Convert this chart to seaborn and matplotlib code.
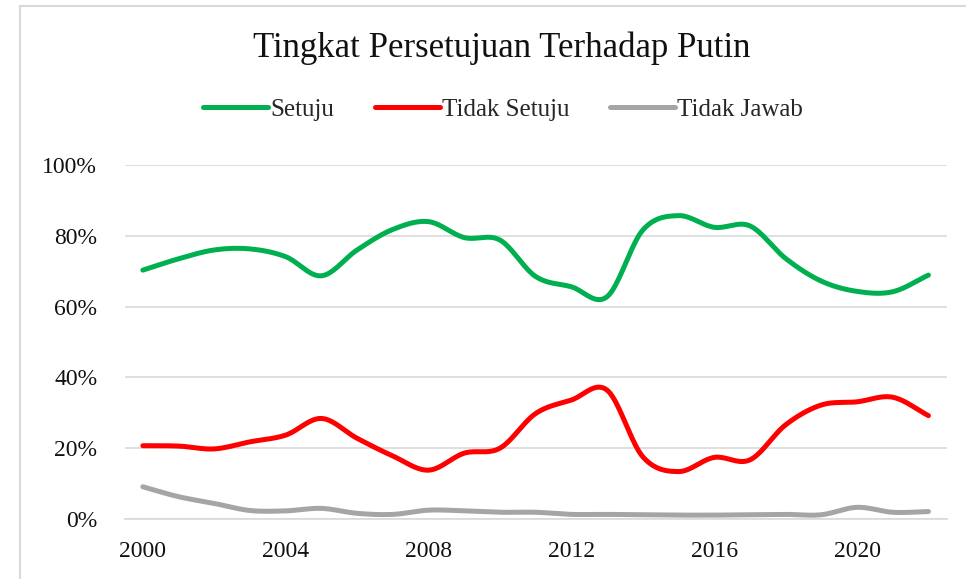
import numpy as np
import pandas as pd
import seaborn as sns
import matplotlib.pyplot as plt
from matplotlib.patches import Rectangle
from matplotlib.ticker import PercentFormatter

# data (percent)
years = list(range(2000, 2023))
setuju = [70.3, 73.5, 76.0, 76.3, 74.1, 68.7, 76.0, 81.8, 84.0, 79.5, 78.8,
          68.5, 65.6, 62.8, 81.6, 85.7, 82.4, 82.8, 73.6, 67.2, 64.3, 64.2, 68.9]
tidak_setuju = [20.7, 20.6, 19.8, 21.8, 23.7, 28.4, 22.8, 17.8, 13.8, 18.6, 20.0,
                29.8, 33.6, 36.4, 17.6, 13.4, 17.4, 16.7, 26.6, 32.2, 33.1, 34.4, 29.2]
tidak_jawab = [9.1, 6.3, 4.4, 2.4, 2.3, 3.0, 1.6, 1.3, 2.5, 2.3, 1.9,
               1.9, 1.3, 1.3, 1.2, 1.1, 1.1, 1.2, 1.3, 1.2, 3.3, 1.9, 2.1]

series = {"Setuju": setuju, "Tidak Setuju": tidak_setuju, "Tidak Jawab": tidak_jawab}
colors = {"Setuju": "#00B050", "Tidak Setuju": "#FF0000", "Tidak Jawab": "#A5A5A5"}


def smooth(x, y, n=20):
    # catmull-rom curve through the points, like Excel's "smoothed line"
    x = np.asarray(x, float)
    y = np.asarray(y, float)
    px = np.concatenate([[2 * x[0] - x[1]], x, [2 * x[-1] - x[-2]]])
    py = np.concatenate([[2 * y[0] - y[1]], y, [2 * y[-1] - y[-2]]])
    xs, ys = [], []
    t = np.linspace(0, 1, n, endpoint=False)
    for i in range(1, len(px) - 2):
        for p, out in ((px, xs), (py, ys)):
            p0, p1, p2, p3 = p[i - 1], p[i], p[i + 1], p[i + 2]
            out.extend(0.5 * (2 * p1 + (-p0 + p2) * t
                              + (2 * p0 - 5 * p1 + 4 * p2 - p3) * t ** 2
                              + (-p0 + 3 * p1 - 3 * p2 + p3) * t ** 3))
    xs.append(x[-1])
    ys.append(y[-1])
    return np.array(xs), np.array(ys)


frames = []
for name, vals in series.items():
    sx, sy = smooth(years, vals)
    frames.append(pd.DataFrame({"Tahun": sx, "Nilai": sy / 100, "Seri": name}))
df = pd.concat(frames, ignore_index=True)

sns.set_theme(style="white")
plt.rcParams["font.family"] = ["Liberation Serif", "DejaVu Serif"]

fig = plt.figure(figsize=(9.66, 5.79), dpi=100)
ax = fig.add_axes([125 / 966, 1 - 519 / 579, (947 - 125) / 966, (519 - 165) / 579])

sns.lineplot(data=df, x="Tahun", y="Nilai", hue="Seri", palette=colors,
             linewidth=3.6, sort=False, estimator=None, units="Seri", ax=ax,
             solid_capstyle="round")

ax.set_xlim(1999.5, 2022.52)
ax.set_ylim(0, 1.0)
ax.set_yticks(np.arange(0, 1.01, 0.2))
ax.yaxis.set_major_formatter(PercentFormatter(1.0, decimals=0))
ax.set_xticks(range(2000, 2021, 4))
ax.grid(axis="y", color="#D9D9D9", linewidth=1.2)
ax.set_axisbelow(True)
for s in ["top", "right", "left"]:
    ax.spines[s].set_visible(False)
ax.spines["bottom"].set_color("#D9D9D9")
ax.spines["bottom"].set_linewidth(1.2)
ax.tick_params(axis="y", length=0, pad=20, labelsize=17, labelcolor="#111111")
ax.tick_params(axis="x", length=0, pad=16, labelsize=17, labelcolor="#111111")
ax.set_xlabel("")
ax.set_ylabel("")

fig.text(502 / 966, 1 - 48 / 579, "Tingkat Persetujuan Terhadap Putin",
         ha="center", va="center", fontsize=25, color="#111111")

handles, labels = ax.get_legend_handles_labels()
ax.legend(handles, labels, loc="center", bbox_to_anchor=(503 / 966, 1 - 110 / 579),
          bbox_transform=fig.transFigure, ncol=3, frameon=False, fontsize=18,
          handlelength=2.6, handletextpad=0.1, columnspacing=1.6)

fig.patches.append(Rectangle((20 / 966, -0.1), 1.2, 1 - 5.5 / 579 + 0.1,
                             transform=fig.transFigure, fill=False,
                             edgecolor="#D9D9D9", linewidth=1.5))

fig.savefig("out.png", dpi=100)
